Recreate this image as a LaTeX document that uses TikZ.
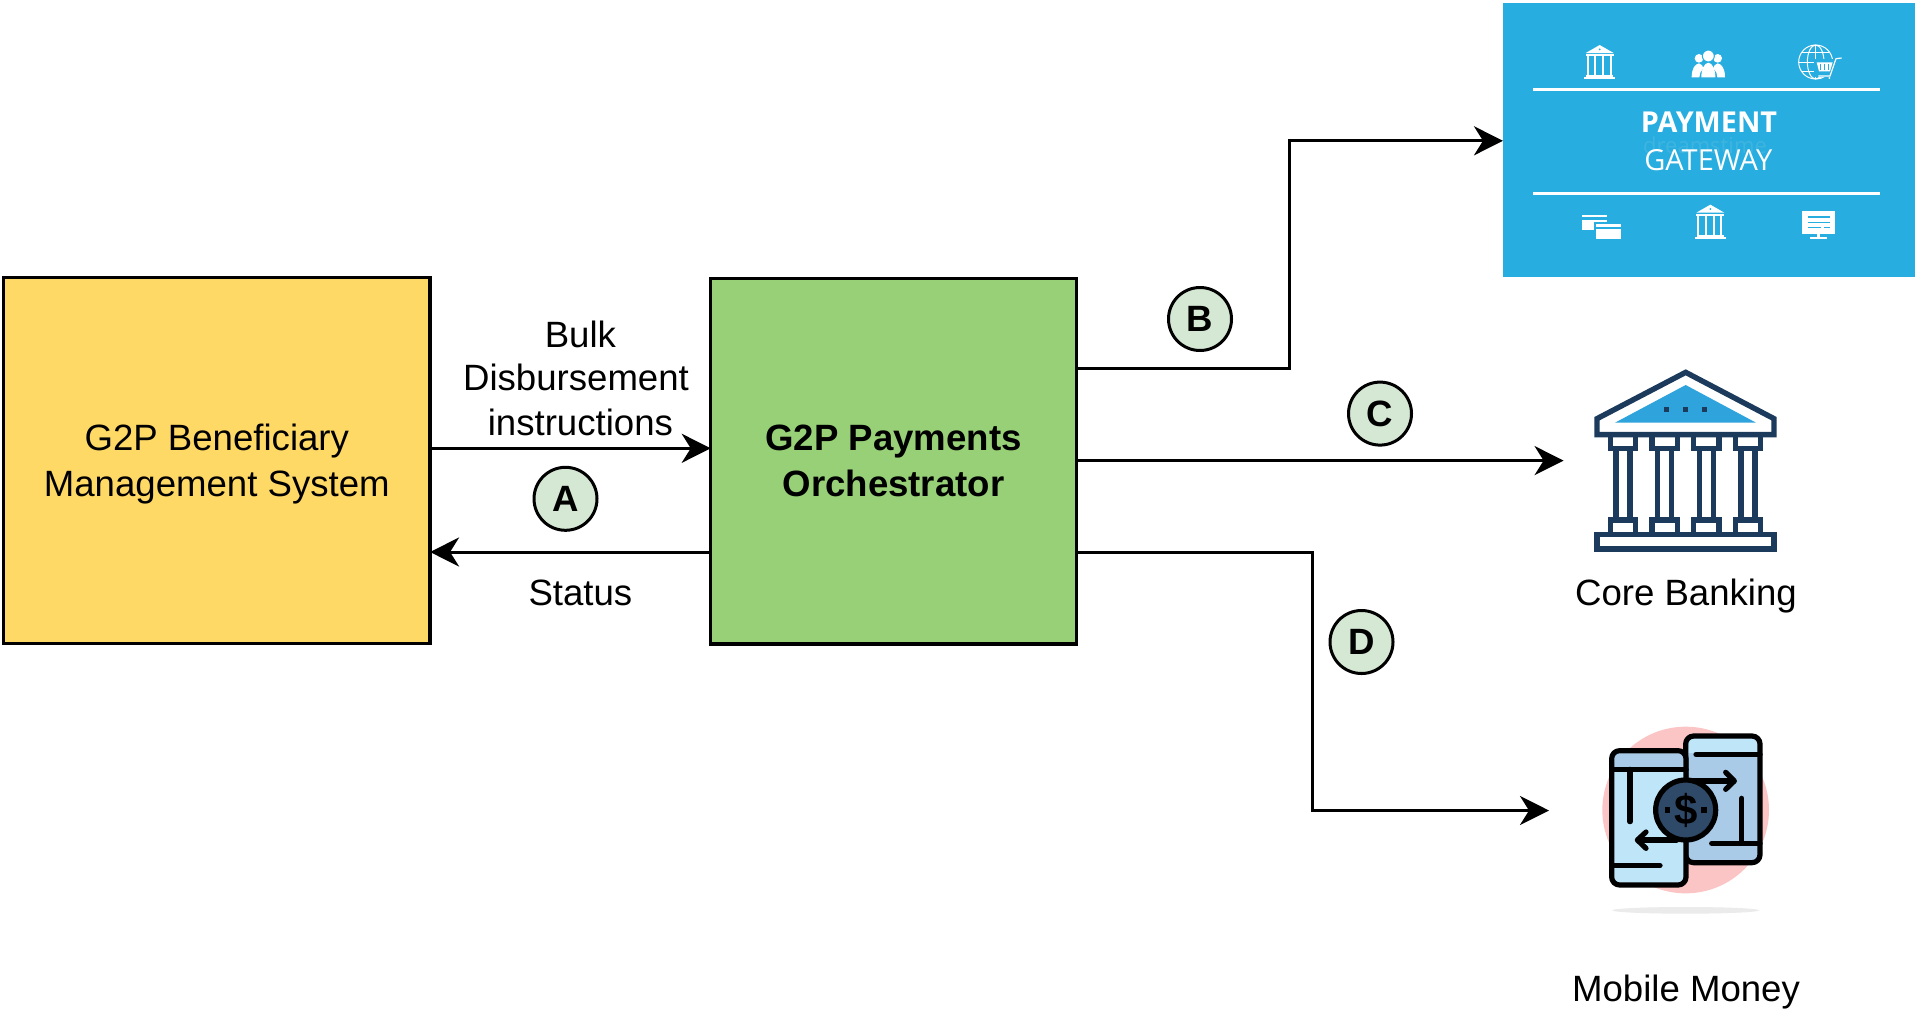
\documentclass[tikz,border=0pt]{standalone}
\usepackage{fontspec}
\setmainfont{Liberation Sans}
\newfontfamily\gwfont{Open Sans}
\usetikzlibrary{arrows.meta}
\definecolor{boxyellow}{HTML}{FFD966}
\definecolor{boxgreen}{HTML}{97D077}
\definecolor{badge}{HTML}{D5E8D4}
\definecolor{gwblue}{HTML}{27ADDF}
\definecolor{gwmark}{HTML}{3FB4DF}
\definecolor{navy}{HTML}{1B3A5C}
\definecolor{roofblue}{HTML}{2FA3DC}
\definecolor{pinkbg}{HTML}{FBC5C5}
\definecolor{phonelight}{HTML}{BFE6F8}
\definecolor{phonemid}{HTML}{A9CBE8}
\definecolor{coin}{HTML}{2F4A68}
\definecolor{shadowgrey}{HTML}{EBEBEB}
\tikzset{
  mainbox/.style={draw=black,line width=3.2pt,outer sep=0pt,minimum height=365.5pt,inner sep=0pt,align=center,text depth=0pt,
    font=\fontsize{36.6}{46}\selectfont},
  flow/.style={draw=black,line width=3pt,-{Stealth[length=29pt,width=29pt,inset=9pt]}},
  lbl/.style={inner sep=0pt,align=center,font=\fontsize{36.6}{45.5}\selectfont},
  letter/.style={circle,draw=black,line width=3pt,fill=badge,minimum size=63pt,inner sep=0pt,
    font=\bfseries\fontsize{36.6}{44}\selectfont},
  navyline/.style={draw=navy,line width=5.4pt,miter limit=10},
  phoneline/.style={draw=black,line width=5.2pt,line cap=round,line join=round},
}
\newcommand{\whitebank}[2]{%
  \begin{scope}[shift={(#1,#2)}]
    \fill[white] (0,0) -- (-42,24) -- (42,24) -- cycle;
    \fill[white] (-42,28) rectangle (42,33);
    \foreach \cx in {-36,-13,10,33}{\fill[white] (\cx-3,33) rectangle (\cx+3,90);}
    \fill[white] (-41,90) rectangle (41,96);
    \fill[white] (-46,96) rectangle (46,102);
    \fill[gwblue] (0,13) circle[radius=3];
  \end{scope}}
\begin{document}
\begin{tikzpicture}[x=1pt,y=-1pt]
\useasboundingbox (0,0) rectangle (1920,1013);
\fill[white] (0,0) rectangle (1920,1013);

% main boxes
\node[mainbox,fill=boxyellow,minimum width=426.5pt] (bms) at (216.8,460.5) {G2P Beneficiary\\Management System};
\node[mainbox,fill=boxgreen,minimum width=365.5pt,font=\bfseries\fontsize{36.6}{46}\selectfont] (orch) at (893.5,461.2) {G2P Payments\\Orchestrator};

% payment gateway
\node[fill=gwblue,minimum width=412pt,minimum height=274pt,inner sep=0pt,outer sep=0pt] (gw) at (1709,140) {};
\begin{scope}[shift={(1490,0)},scale=0.33333]
  \draw[white,line width=3.4pt] (130,268) -- (1170,268);
  \draw[white,line width=3.4pt] (130,580) -- (1170,580);
  \whitebank{329}{135}
  \whitebank{661}{614}
  % people
  \fill[white] (605,232) .. controls (605,205) and (615,192) .. (627,190) .. controls (634,192) and (640,198) .. (640,205) .. controls (632,212) and (628,222) .. (628,232) -- cycle;
  \fill[white] (705,232) .. controls (705,205) and (695,192) .. (683,190) .. controls (676,192) and (670,198) .. (670,205) .. controls (678,212) and (682,222) .. (682,232) -- cycle;
  \fill[white] (634,232) .. controls (634,208) and (642,190) .. (655,188) .. controls (668,190) and (676,208) .. (676,232) -- cycle;
  \fill[white] (627,175) circle[radius=13];
  \fill[white] (683,175) circle[radius=13];
  \draw[gwblue,line width=1pt,fill=white] (655,168) circle[radius=18];
  % globe and cart
  \begin{scope}[white,line width=1pt]
    \draw (977,186) circle[radius=51];
    \draw (977,186) ellipse[x radius=25,y radius=51];
    \draw (977,135) -- (977,237);
    \draw (926,186) -- (1028,186);
    \draw (936,158) -- (1018,158);
    \draw (936,214) -- (1018,214);
  \end{scope}
  \fill[gwblue] (972,178) rectangle (1032,232);
  \draw[white,line width=1.2pt] (1055,174) -- (1038,176) -- (1020,228) -- (985,228);
  \fill[white] (980,187) -- (1028,187) -- (1020,214) -- (987,214) -- cycle;
  \foreach \bx in {992,1003,1014}{\draw[gwblue,line width=0.9pt] (\bx,192) -- (\bx,210);}
  \fill[white] (992,234) circle[radius=3];
  \fill[white] (1018,234) circle[radius=3];
  % cards
  \fill[white] (276,645) rectangle (352,690);
  \fill[gwblue] (276,652) rectangle (352,660);
  \fill[gwblue] (311,665) rectangle (399,723);
  \fill[white] (317,672) rectangle (393,717);
  \fill[gwblue] (317,680) rectangle (393,687);
  % monitor
  \fill[white] (937,634) rectangle (1034,702);
  \fill[gwblue] (953,649) rectangle (1019,654);
  \fill[gwblue] (953,665) rectangle (1019,670);
  \fill[gwblue] (953,680) rectangle (992,685);
  \fill[gwblue] (1002,680) rectangle (1019,685);
  \fill[white] (982,702) rectangle (989,712);
  \fill[white] (960,712) rectangle (1012,717);
  % wording
  \node[text=gwmark,font=\gwfont\fontsize{22}{24}\selectfont,inner sep=0pt] (gwmark) at (645,437) {dreamstime};
  \node[text=white,font=\gwfont\bfseries\fontsize{28.8}{34}\selectfont,inner sep=0pt] (gwa) at (657,368) {PAYMENT};
  \node[text=white,font=\gwfont\fontsize{29}{34}\selectfont,inner sep=0pt] (gwb) at (655,480) {GATEWAY};
\end{scope}

% core banking icon
\begin{scope}[shift={(1560,350)},scale=0.33333]
  \fill[roofblue] (377,105) -- (165,218) -- (588,218) -- cycle;
  \draw[navyline] (377,67) -- (111,206) -- (111,254) -- (642,254) -- (642,206) -- cycle;
  \foreach \dx in {320,377,433}{\fill[navy] (\dx-8,170) rectangle (\dx+8,186);}
  \foreach \cx in {189,314,439,564}{
    \draw[navyline] (\cx-38,254) rectangle (\cx+38,295);
    \draw[navyline] (\cx-21,295) -- (\cx-21,510);
    \draw[navyline] (\cx+21,295) -- (\cx+21,510);
    \draw[navyline] (\cx-38,510) rectangle (\cx+38,553);
  }
  \draw[navyline] (111,553) rectangle (642,597);
\end{scope}
\coordinate (bankin) at (1563.6,460.6);

% mobile money icon
\begin{scope}[shift={(1580,710)},scale=0.33333]
  \fill[shadowgrey] (317,601) ellipse[x radius=220,y radius=10];
  \fill[pinkbg] (317,300) circle[radius=250];
  % right phone
  \fill[phonemid,rounded corners=7pt] (317,78) rectangle (540,458);
  \fill[phonelight,rounded corners=5pt] (325,85) rectangle (533,128);
  \fill[phonelight] (325,115) rectangle (533,128);
  \draw[phoneline,rounded corners=8pt] (317,78) rectangle (540,458);
  \draw[phoneline] (348,133) -- (540,133);
  \draw[phoneline] (340,213) -- (460,213);
  \draw[phoneline] (437,187) -- (463,213) -- (437,238);
  \draw[phoneline] (485,265) -- (485,400);
  \draw[phoneline] (395,400) -- (540,400);
  % left phone
  \fill[phonelight,rounded corners=7pt] (95,122) rectangle (318,525);
  \fill[phonemid,rounded corners=5pt] (103,130) rectangle (310,178);
  \fill[phonemid] (103,160) rectangle (310,178);
  \draw[phoneline,rounded corners=8pt] (95,122) rectangle (318,525);
  \draw[phoneline] (95,178) -- (318,178);
  \draw[phoneline] (150,178) -- (150,335);
  \draw[phoneline] (100,467) -- (240,467);
  \draw[phoneline] (290,390) -- (175,390);
  \draw[phoneline] (198,366) -- (172,390) -- (198,415);
  % coin
  \draw[black,line width=5.2pt,fill=coin] (317,300) circle[radius=90];
  \fill[black] (254,292) rectangle (270,308);
  \fill[black] (364,292) rectangle (380,308);
  \node[text=black,font=\bfseries\fontsize{42}{44}\selectfont,inner sep=0pt] (dollar) at (317,300) {\$};
\end{scope}
\coordinate (phonein) at (1549,810.5);

% connectors
\draw[flow] (bms.east |- 0,448.3) -- (orch.west |- 0,448.3);
\draw[flow] (orch.west |- 0,552) -- (bms.east |- 0,552);
\draw[flow] (orch.east |- 0,368.9) -- (1289.3,368.9) -- (1289.3,140.8) -- (gw.west |- 0,140.8);
\draw[flow] (orch.east |- 0,460.6) -- (bankin);
\draw[flow] (orch.east |- 0,552) -- (1312.6,552) -- (1312.6,810.5) -- (phonein);

% labels
\node[lbl] (bulk) at (580.4,334) {Bulk};
\node[lbl] (disb) at (576,377.1) {Disbursement};
\node[lbl] (instr) at (580.4,422.4) {instructions};
\node[lbl] (status) at (580.4,593) {Status};
\node[lbl] (core) at (1686,596) {Core Banking};
\node[lbl] (mobile) at (1686,992.3) {Mobile Money};
\node[letter] (A) at (565.5,498.8) {A};
\node[letter] (B) at (1200,319) {B};
\node[letter] (C) at (1380,413.6) {C};
\node[letter] (D) at (1361.5,642) {D};
\end{tikzpicture}
\end{document}
